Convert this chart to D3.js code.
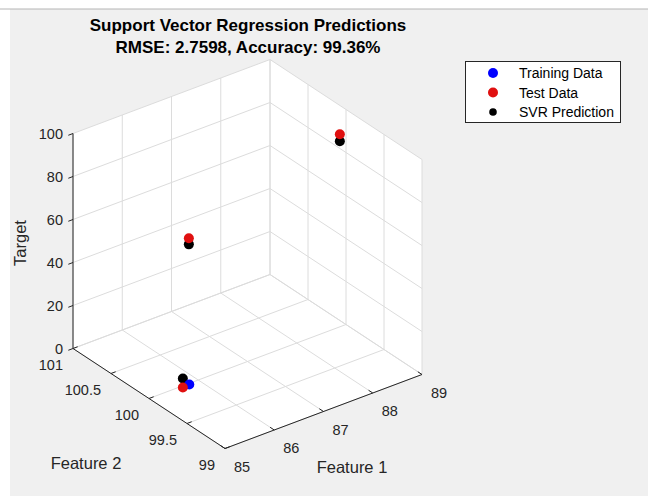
<!DOCTYPE html>
<html>
<head>
<meta charset="utf-8">
<script src="https://cdn.jsdelivr.net/npm/d3@7"></script>
<style>
  html, body { margin: 0; padding: 0; background: #ffffff; }
  svg { display: block; font-family: "Liberation Sans", Arial, Helvetica, sans-serif; }
</style>
</head>
<body>
<svg id="chart" width="648" height="499"></svg>
<script>
// ---------- data ----------
const titleLines = ["Support Vector Regression Predictions", "RMSE: 2.7598, Accuracy: 99.36%"];
const feature1Ticks = [85, 86, 87, 88, 89];
const feature2Ticks = [99, 99.5, 100, 100.5, 101];
const feature2TickLabels = ["99", "99.5", "100", "100.5", "101"];
const targetTicks = [0, 20, 40, 60, 80, 100];

// Training data
const trainF1 = [85.71];
const trainF2 = [99.93];
const trainY  = [2];
// Test data
const testF1 = [85.61, 86.55, 88.52];
const testF2 = [99.95, 100.48, 99.77];
const testY  = [1, 50, 98];
// SVR predictions (for test points)
const predF1 = [85.61, 86.55, 88.52];
const predF2 = [99.95, 100.48, 99.77];
const predY  = [5.2, 47.2, 94.7];

const legendLabels = ["Training Data", "Test Data", "SVR Prediction"];
const legendColors = ["#0000ff", "#e01010", "#000000"];

// ---------- projection ----------
const svg = d3.select("#chart");
const W = 648, H = 499;

// figure background
svg.append("rect").attr("x", 10).attr("y", 9).attr("width", W - 10).attr("height", 487).attr("fill", "#f0f0f0");
svg.append("line").attr("x1", 0).attr("x2", W).attr("y1", 9).attr("y2", 9).attr("stroke", "#b4b4b4").attr("stroke-width", 1);

const s1 = d3.scaleLinear().domain([85, 89]).range([0, 1]);
const s2 = d3.scaleLinear().domain([101, 99]).range([0, 1]);
const sz = d3.scaleLinear().domain([0, 100]).range([0, 1]);

const O = [73, 348.5];     // screen point of (F1=85, F2=101, Z=0)
const A = [197, -74];      // full F1 range
const B = [152, 100];      // full F2 range (101 -> 99)
const C = [0, -215];       // full Z range

function P(f1, f2, z) {
  const u = s1(f1), v = s2(f2), w = sz(z);
  return [O[0] + u * A[0] + v * B[0] + w * C[0], O[1] + u * A[1] + v * B[1] + w * C[1]];
}

// ---------- axes area (white panes) ----------
function poly(pts, fill) {
  svg.append("path").attr("d", "M" + pts.map(p => p.join(",")).join("L") + "Z").attr("fill", fill).attr("stroke", "none");
}
// floor z=0
poly([P(85,101,0), P(85,99,0), P(89,99,0), P(89,101,0)], "#ffffff");
// back wall F2=101
poly([P(85,101,0), P(89,101,0), P(89,101,100), P(85,101,100)], "#ffffff");
// back wall F1=89
poly([P(89,101,0), P(89,99,0), P(89,99,100), P(89,101,100)], "#ffffff");

// ---------- grid ----------
const gridColor = "#dcdcdc";
const grid = svg.append("g").attr("stroke", gridColor).attr("stroke-width", 1).attr("fill", "none");
function seg(g, a, b) {
  g.append("line").attr("x1", a[0]).attr("y1", a[1]).attr("x2", b[0]).attr("y2", b[1]);
}
// floor grid
feature1Ticks.forEach(t => seg(grid, P(t, 101, 0), P(t, 99, 0)));
feature2Ticks.forEach(t => seg(grid, P(85, t, 0), P(89, t, 0)));
// wall F2=101
feature1Ticks.forEach(t => seg(grid, P(t, 101, 0), P(t, 101, 100)));
targetTicks.forEach(t => seg(grid, P(85, 101, t), P(89, 101, t)));
// wall F1=89
feature2Ticks.forEach(t => seg(grid, P(89, t, 0), P(89, t, 100)));
targetTicks.forEach(t => seg(grid, P(89, 101, t), P(89, 99, t)));

// ---------- axis lines and ticks ----------
const axisColor = "#262626";
const ax = svg.append("g").attr("stroke", axisColor).attr("stroke-width", 1).attr("fill", "none");
seg(ax, P(85, 101, 0), P(85, 101, 100));   // Z axis
seg(ax, P(85, 101, 0), P(85, 99, 0));      // F2 axis
seg(ax, P(85, 99, 0), P(89, 99, 0));       // F1 axis

function unit(v) { const l = Math.hypot(v[0], v[1]); return [v[0] / l, v[1] / l]; }
const tickLen = 5;
const dA = unit(A), dB = unit(B);
// Z ticks: point toward -F1 direction
targetTicks.forEach(t => {
  const p = P(85, 101, t);
  seg(ax, p, [p[0] - dA[0] * tickLen, p[1] - dA[1] * tickLen]);
});
// F2 ticks: point toward +F1 (into plot)
feature2Ticks.forEach(t => {
  const p = P(85, t, 0);
  seg(ax, p, [p[0] + dA[0] * tickLen, p[1] + dA[1] * tickLen]);
});
// F1 ticks: point toward back (-B)
feature1Ticks.forEach(t => {
  const p = P(t, 99, 0);
  seg(ax, p, [p[0] - dB[0] * tickLen, p[1] - dB[1] * tickLen]);
});

// ---------- tick labels ----------
const tickFont = 14.5;
const tl = svg.append("g").attr("fill", axisColor).style("font-size", tickFont + "px");
targetTicks.forEach(t => {
  const p = P(85, 101, t);
  tl.append("text").attr("x", 63).attr("y", p[1]).attr("text-anchor", "end").attr("dominant-baseline", "central").text(t);
});
feature2Ticks.forEach((t, i) => {
  const p = P(85, t, 0);
  tl.append("text").attr("x", p[0] - 10).attr("y", p[1] + 16).attr("text-anchor", "end").attr("dominant-baseline", "central").text(feature2TickLabels[i]);
});
feature1Ticks.forEach(t => {
  const p = P(t, 99, 0);
  tl.append("text").attr("x", p[0] + 9).attr("y", p[1] + 18).attr("text-anchor", "start").attr("dominant-baseline", "central").text(t);
});

// ---------- axis labels ----------
const lab = svg.append("g").attr("fill", axisColor).style("font-size", "16.5px");
lab.append("text").attr("transform", "translate(20,243) rotate(-90)").attr("text-anchor", "middle").attr("dominant-baseline", "central").text("Target");
lab.append("text").attr("x", 86).attr("y", 463).attr("text-anchor", "middle").attr("dominant-baseline", "central").text("Feature 2");
lab.append("text").attr("x", 352).attr("y", 467).attr("text-anchor", "middle").attr("dominant-baseline", "central").text("Feature 1");

// ---------- title ----------
const tt = svg.append("g").attr("fill", "#000").style("font-size", "17px").style("font-weight", "bold");
tt.append("text").attr("x", 248).attr("y", 25).attr("text-anchor", "middle").attr("dominant-baseline", "central").text(titleLines[0]);
tt.append("text").attr("x", 248).attr("y", 47).attr("text-anchor", "middle").attr("dominant-baseline", "central").text(titleLines[1]);

// ---------- points ----------
const markR = 5;
const pts = svg.append("g");
function drawSeries(f1, f2, y, color) {
  f1.forEach((v, i) => {
    const p = P(v, f2[i], y[i]);
    pts.append("circle").attr("cx", p[0]).attr("cy", p[1]).attr("r", markR).attr("fill", color);
  });
}
drawSeries(predF1, predF2, predY, legendColors[2]);
drawSeries(trainF1, trainF2, trainY, legendColors[0]);
drawSeries(testF1, testF2, testY, legendColors[1]);

// ---------- legend ----------
const lg = svg.append("g");
lg.append("rect").attr("x", 465.5).attr("y", 61.5).attr("width", 155).attr("height", 61)
  .attr("fill", "#ffffff").attr("stroke", axisColor).attr("stroke-width", 1);
const legR = [5, 5, 3.8];
legendLabels.forEach((lbl, i) => {
  const y = 73 + i * 19.5;
  lg.append("circle").attr("cx", 493).attr("cy", y).attr("r", legR[i]).attr("fill", legendColors[i]);
  lg.append("text").attr("x", 519).attr("y", y).attr("dominant-baseline", "central")
    .attr("fill", "#000").style("font-size", "14px").text(lbl);
});
</script>
</body>
</html>
